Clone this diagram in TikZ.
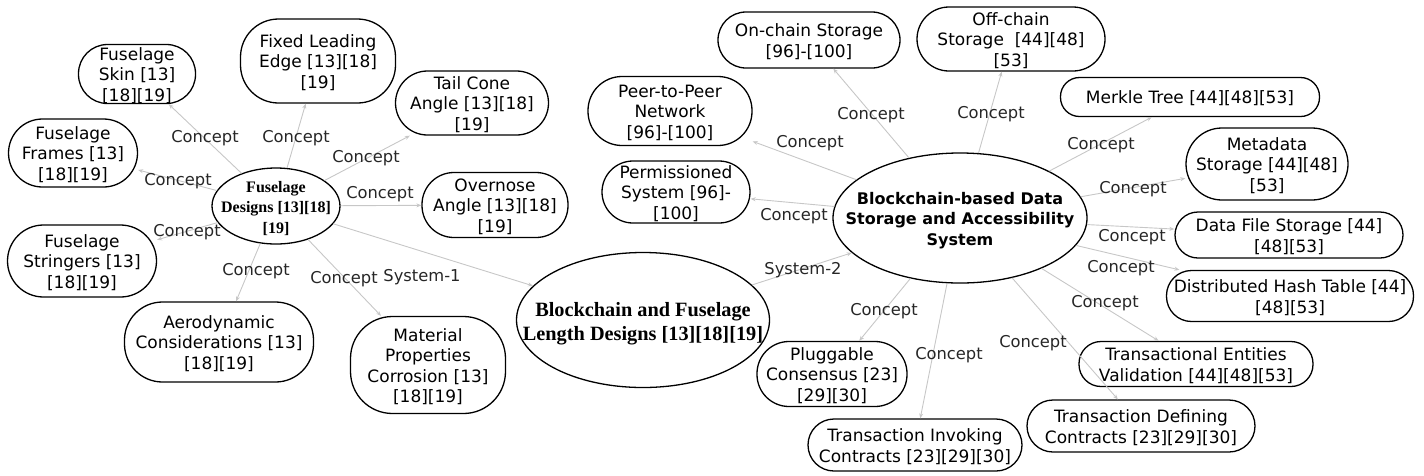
\documentclass[tikz,border=0pt]{standalone}
\usepackage{fontspec}
\setmainfont{DejaVu Sans}
\newfontfamily\tnr{Liberation Serif}
\usetikzlibrary{shapes.geometric,arrows.meta}
\newcommand{\zt}[2][17]{\makebox[0pt]{\fontsize{#1}{1.2\dimexpr#1pt\relax}\selectfont\raisebox{-0.42em}[0pt][0pt]{\begin{tabular}{@{}c@{}}#2\end{tabular}}}}
\tikzset{
  bx/.style n args={3}{draw, line width=1.3pt, rectangle, rounded corners=#3, minimum width=#1, minimum height=#2, inner sep=0pt},
  el/.style 2 args={draw, line width=1.3pt, ellipse, minimum width=#1, minimum height=#2, inner sep=0pt},
  edge/.style={draw=black!22, line width=0.9pt, -{Stealth[length=5pt,width=4pt]}},
  lbl/.style={inner sep=0pt, font=\fontsize{16.3}{20}\selectfont, text=black!85},
}
\begin{document}
\begin{tikzpicture}[x=1pt,y=-1pt]
\useasboundingbox (0,0) rectangle (1424,475);
% left cluster
\node[el={128}{76}] (fd) at (276,206) {\zt{\tnr\bfseries\fontsize{16}{21}\selectfont Fuselage\\\tnr\bfseries\fontsize{16}{21}\selectfont Designs [13][18]\\{}\tnr\bfseries\fontsize{16}{21}\selectfont [19]}};
\node[bx={117}{59}{29}] (skin) at (137,74) {\zt{Fuselage\\Skin [13]\\{}[18][19]}};
\node[bx={155}{84}{38}] (fle) at (318,61) {\zt{Fixed Leading\\Edge [13][18]\\{}[19]}};
\node[bx={153}{64}{32}] (tail) at (472,103) {\zt{Tail Cone\\Angle [13][18]\\{}[19]}};
\node[bx={129}{68}{34}] (frames) at (73,153) {\zt{Fuselage\\Frames [13]\\{}[18][19]}};
\node[bx={146}{65}{32}] (over) at (495,205) {\zt{Overnose\\Angle [13][18]\\{}[19]}};
\node[bx={149}{72}{36}] (string) at (82,261) {\zt{Fuselage\\Stringers [13]\\{}[18][19]}};
\node[bx={189}{80}{38}] (aero) at (219,342) {\zt{Aerodynamic\\Considerations [13]\\{}[18][19]}};
\node[bx={155}{97}{42}] (mat) at (428,365) {\zt{Material\\Properties\\Corrosion [13]\\{}[18][19]}};
\node[el={253}{135}] (bfl) at (643,320) {\zt[20]{\tnr\bfseries\fontsize{20.3}{24}\selectfont Blockchain and Fuselage\\\tnr\bfseries\fontsize{20.3}{24}\selectfont Length Designs [13][18][19]}};
% right cluster
\node[el={254}{130}] (bds) at (960,218) {\zt{\bfseries\fontsize{16}{20}\selectfont Blockchain-based Data\\\bfseries\fontsize{16}{20}\selectfont Storage and Accessibility\\\bfseries\fontsize{16}{20}\selectfont System}};
\node[bx={182}{56}{28}] (on) at (809,40) {\zt{On-chain Storage\\{}[96]-[100]}};
\node[bx={188}{64}{32}] (off) at (1011,39) {\zt{Off-chain\\Storage\ \ [44][48]\\{}[53]}};
\node[bx={164}{69}{34}] (p2p) at (670,111) {\zt{Peer-to-Peer\\Network\\{}[96]-[100]}};
\node[bx={148}{62}{31}] (perm) at (676,192) {\zt{Permissioned\\System [96]-\\{}[100]}};
\node[bx={259}{39}{19}] (merkle) at (1190,97) {\zt{Merkle Tree [44][48][53]}};
\node[bx={162}{72}{36}] (meta) at (1267,164) {\zt{Metadata\\Storage [44][48]\\{}[53]}};
\node[bx={228}{46}{23}] (dfs) at (1289,235) {\zt{Data File Storage [44]\\{}[48][53]}};
\node[bx={247}{51}{25}] (dht) at (1290,296) {\zt{Distributed Hash Table [44]\\{}[48][53]}};
\node[bx={234}{45}{22}] (tev) at (1196,364) {\zt{Transactional Entities\\Validation [44][48][53]}};
\node[bx={228}{52}{26}] (tdc) at (1141,426) {\zt{Transaction Defining\\Contracts [23][29][30]}};
\node[bx={214}{52}{26}] (tic) at (915,445) {\zt{Transaction Invoking\\Contracts [23][29][30]}};
\node[bx={150}{65}{32}] (plug) at (832,374) {\zt{Pluggable\\Consensus [23]\\{}[29][30]}};
% connectors
\foreach \t in {skin,fle,tail,frames,over,string,aero,mat,bfl} \draw[edge] (fd) -- (\t);
\foreach \t in {on,off,p2p,perm,merkle,meta,dfs,dht,tev,tdc,tic,plug} \draw[edge] (bds) -- (\t);
\draw[edge] (bfl) -- (bds);
% labels
\node[lbl] (l1) at (205,138) {Concept};
\node[lbl] (l2) at (296,138) {Concept};
\node[lbl] (l3) at (366,158) {Concept};
\node[lbl] (l4) at (178,181) {Concept};
\node[lbl] (l5) at (380,194) {Concept};
\node[lbl] (l6) at (187,232) {Concept};
\node[lbl] (l7) at (256,271) {Concept};
\node[lbl] (l8) at (344,279) {Concept};
\node[lbl] (l9) at (422,277) {System-1};
\node[lbl] (l10) at (803,270) {System-2};
\node[lbl] (l11) at (871,115) {Concept};
\node[lbl] (l12) at (991,114) {Concept};
\node[lbl] (l13) at (810,143) {Concept};
\node[lbl] (l14) at (794,216) {Concept};
\node[lbl] (l15) at (1101,145) {Concept};
\node[lbl] (l16) at (1133,189) {Concept};
\node[lbl] (l17) at (1132,237) {Concept};
\node[lbl] (l18) at (1121,268) {Concept};
\node[lbl] (l19) at (1105,303) {Concept};
\node[lbl] (l20) at (1033,343) {Concept};
\node[lbl] (l21) at (949,355) {Concept};
\node[lbl] (l22) at (884,311) {Concept};
\end{tikzpicture}
\end{document}
